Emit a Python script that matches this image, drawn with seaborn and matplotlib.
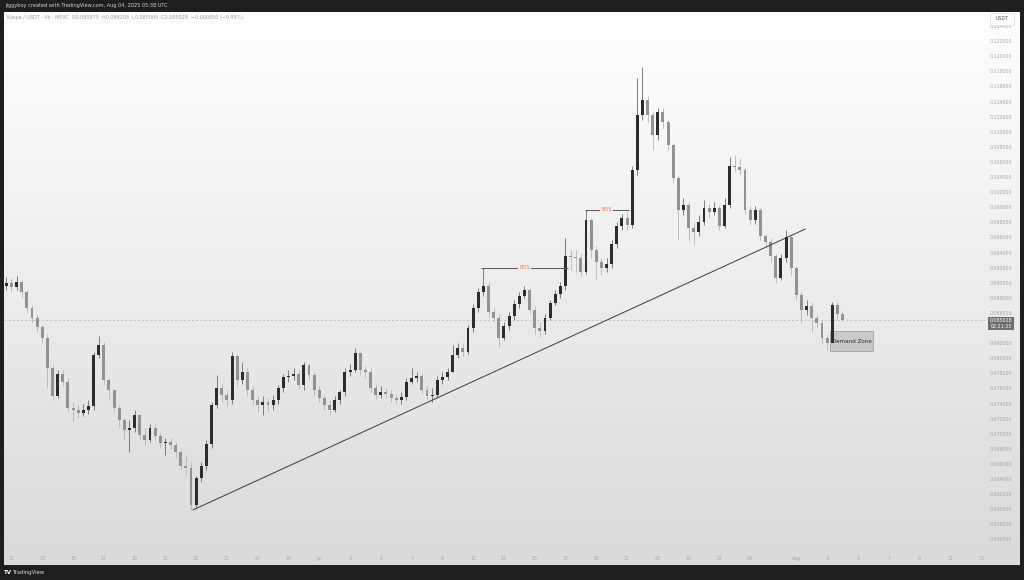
''' Kaspa / USDT candles with trend line, BOS marks and demand zone '''
import numpy as np
import pandas as pd
import matplotlib
matplotlib.use("Agg")
import matplotlib.pyplot as plt
import matplotlib.dates as mdates
from matplotlib.patches import Rectangle
import seaborn as sns

sns.set_theme(style="white")
plt.rcParams['font.family'] = ['DejaVu Sans']

# 8h candles (first candle Jun 10 16:00 UTC)
candle_start = "2025-06-10 16:00"
first_open = 0.08956
close = [0.08996, 0.08943, 0.09009, 0.08877, 0.08665, 0.08532, 0.08413, 0.08268, 0.07870, 0.07499,
         0.07791, 0.07685, 0.07340, 0.07314, 0.07274, 0.07314, 0.07367, 0.08042, 0.08175, 0.07711,
         0.07579, 0.07340, 0.07182, 0.07049, 0.07076, 0.07248, 0.06983, 0.06917, 0.07076, 0.06970,
         0.06877, 0.06890, 0.06850, 0.06758, 0.06572, 0.06546, 0.06056, 0.06413, 0.06572, 0.06864,
         0.07380, 0.07605, 0.07513, 0.07446, 0.08029, 0.07711, 0.07817, 0.07579, 0.07446, 0.07380,
         0.07420, 0.07380, 0.07446, 0.07605, 0.07751, 0.07764, 0.07791, 0.07645, 0.07910, 0.07778,
         0.07579, 0.07473, 0.07380, 0.07314, 0.07446, 0.07552, 0.07817, 0.07844, 0.08069, 0.07844,
         0.07817, 0.07605, 0.07513, 0.07552, 0.07526, 0.07473, 0.07446, 0.07486, 0.07685, 0.07738,
         0.07764, 0.07579, 0.07499, 0.07513, 0.07711, 0.07751, 0.07817, 0.08042, 0.08135, 0.08082,
         0.08400, 0.08665, 0.08877, 0.08956, 0.08612, 0.08532, 0.08268, 0.08427, 0.08559, 0.08718,
         0.08824, 0.08903, 0.08638, 0.08400, 0.08360, 0.08532, 0.08731, 0.08850, 0.08956, 0.09354,
         0.09340, 0.09327, 0.09142, 0.09831, 0.09433, 0.09274, 0.09195, 0.09248, 0.09513, 0.09751,
         0.09857, 0.09764, 0.10493, 0.11221, 0.11420, 0.11221, 0.10956, 0.11261, 0.11129, 0.10824,
         0.10387, 0.09963, 0.10029, 0.09725, 0.09672, 0.09804, 0.09989, 0.09937, 0.09989, 0.09751,
         0.10029, 0.10546, 0.10533, 0.10493, 0.09963, 0.09831, 0.09963, 0.09619, 0.09539, 0.09354,
         0.09062, 0.09327, 0.09605, 0.09195, 0.08837, 0.08638, 0.08691, 0.08532, 0.08466, 0.08268,
         0.08201, 0.08705, 0.08585, 0.085028]
high = [0.09076, 0.09062, 0.09089, 0.09036, 0.08903, 0.08705, 0.08585, 0.08440, 0.08321, 0.07910,
        0.07844, 0.07844, 0.07738, 0.07420, 0.07380, 0.07393, 0.07446, 0.08082, 0.08294, 0.08215,
        0.07738, 0.07579, 0.07380, 0.07208, 0.07182, 0.07314, 0.07261, 0.07076, 0.07129, 0.07129,
        0.07023, 0.06943, 0.06943, 0.06877, 0.06784, 0.06718, 0.06625, 0.06440, 0.06625, 0.06917,
        0.07420, 0.07778, 0.07672, 0.07579, 0.08082, 0.08056, 0.07950, 0.07870, 0.07632, 0.07499,
        0.07499, 0.07473, 0.07513, 0.07645, 0.07791, 0.07844, 0.07870, 0.07844, 0.07950, 0.07923,
        0.07817, 0.07632, 0.07513, 0.07446, 0.07499, 0.07579, 0.07870, 0.07923, 0.08135, 0.08082,
        0.07897, 0.07870, 0.07658, 0.07632, 0.07605, 0.07579, 0.07526, 0.07552, 0.07738, 0.07870,
        0.07817, 0.07791, 0.07632, 0.07605, 0.07764, 0.07817, 0.07870, 0.08175, 0.08201, 0.08188,
        0.08440, 0.08718, 0.08930, 0.09195, 0.09009, 0.08665, 0.08585, 0.08480, 0.08612, 0.08771,
        0.08877, 0.08956, 0.08930, 0.08691, 0.08480, 0.08585, 0.08771, 0.08903, 0.09009, 0.09592,
        0.09433, 0.09433, 0.09380, 0.09963, 0.09857, 0.09486, 0.09327, 0.09327, 0.09566, 0.09804,
        0.09910, 0.09937, 0.10546, 0.11711, 0.11857, 0.11473, 0.11261, 0.11314, 0.11314, 0.11155,
        0.10837, 0.10413, 0.10122, 0.10069, 0.09804, 0.09897, 0.10095, 0.10042, 0.10069, 0.10016,
        0.10122, 0.10665, 0.10691, 0.10652, 0.10519, 0.10016, 0.10016, 0.09989, 0.09645, 0.09592,
        0.09380, 0.09380, 0.09698, 0.09619, 0.09221, 0.08877, 0.08771, 0.08744, 0.08572, 0.08506,
        0.08307, 0.08744, 0.08744, 0.08621]
low = [0.08903, 0.08877, 0.08903, 0.08797, 0.08612, 0.08480, 0.08347, 0.08201, 0.07605, 0.07446,
       0.07473, 0.07632, 0.07287, 0.07155, 0.07208, 0.07235, 0.07261, 0.07314, 0.08003, 0.07658,
       0.07446, 0.07287, 0.07089, 0.06917, 0.06758, 0.07023, 0.06917, 0.06850, 0.06890, 0.06917,
       0.06811, 0.06718, 0.06797, 0.06678, 0.06519, 0.06453, 0.05989, 0.06016, 0.06360, 0.06519,
       0.06811, 0.07340, 0.07420, 0.07367, 0.07393, 0.07632, 0.07658, 0.07499, 0.07380, 0.07287,
       0.07248, 0.07287, 0.07314, 0.07393, 0.07552, 0.07685, 0.07711, 0.07592, 0.07579, 0.07711,
       0.07499, 0.07420, 0.07314, 0.07248, 0.07287, 0.07393, 0.07499, 0.07764, 0.07817, 0.07778,
       0.07738, 0.07552, 0.07460, 0.07473, 0.07473, 0.07420, 0.07393, 0.07393, 0.07446, 0.07658,
       0.07685, 0.07526, 0.07446, 0.07420, 0.07473, 0.07658, 0.07711, 0.07817, 0.08003, 0.08029,
       0.08056, 0.08347, 0.08612, 0.08824, 0.08532, 0.08480, 0.08148, 0.08241, 0.08374, 0.08506,
       0.08665, 0.08797, 0.08585, 0.08321, 0.08281, 0.08321, 0.08506, 0.08705, 0.08797, 0.08903,
       0.09168, 0.09142, 0.09089, 0.09115, 0.09327, 0.09036, 0.09102, 0.09142, 0.09195, 0.09460,
       0.09698, 0.09698, 0.09725, 0.10427, 0.11155, 0.11129, 0.10758, 0.10890, 0.11049, 0.10758,
       0.10334, 0.09566, 0.09897, 0.09566, 0.09499, 0.09619, 0.09764, 0.09857, 0.09897, 0.09698,
       0.09725, 0.09989, 0.10466, 0.10427, 0.09910, 0.09764, 0.09778, 0.09566, 0.09460, 0.09274,
       0.08996, 0.09036, 0.09274, 0.09102, 0.08771, 0.08466, 0.08572, 0.08347, 0.08400, 0.08201,
       0.08109, 0.08162, 0.08506, 0.08490]

# trend line (two anchors), break-of-structure levels, demand zone
trend_time = ["2025-06-22 19:00", "2025-08-01 14:00"]
trend_price = [0.05990, 0.09711]
bos_start = ["2025-07-11 13:00", "2025-07-18 06:00"]
bos_end = ["2025-07-17 04:00", "2025-07-21 03:00"]
bos_price = [0.09195, 0.09963]
zone_time = ["2025-08-03 04:00", "2025-08-05 23:00"]
zone_price = [0.08095, 0.08360]
last_price = 0.085028

header = "jiggyboy created with TradingView.com, Aug 04, 2025 05:38 UTC"
legend = ("Kaspa / USDT · 4h · MEXC  O0.085875  H0.086208  L0.085000  "
          "C0.085028  \u22120.000850 (\u22120.99%)")

close = np.array(close)
high = np.array(high)
low = np.array(low)
times = pd.date_range(candle_start, periods=len(close), freq="8h")
x = mdates.date2num(times.to_pydatetime())
op = np.r_[first_open, close[:-1]]
up = close >= op

W, H = 1024, 580
fig = plt.figure(figsize=(W / 100, H / 100), dpi=100, facecolor="#1e1e1e")

# light pane with a soft vertical gradient
bg = fig.add_axes([4 / W, 1 - 565 / H, 1016 / W, 553 / H], zorder=-1)
shade = np.linspace(1.0, 0.855, 256)
bg.imshow(np.dstack([shade, shade, shade]).reshape(256, 1, 3), aspect="auto",
          extent=[0, 1, 0, 1])
bg.axis("off")

ax = fig.add_axes([4 / W, 1 - 552 / H, 981 / W, 540 / H])
ax.set_facecolor("none")
for s in ax.spines.values():
    s.set_visible(False)

# candles
body = np.maximum(np.abs(close - op), 0.00008)
base = np.minimum(close, op)
ax.vlines(x[up], low[up], high[up], color="#6a6a6a", lw=0.6, zorder=2)
ax.vlines(x[~up], low[~up], high[~up], color="#b5b5b5", lw=0.6, zorder=2)
ax.bar(x[up], body[up], bottom=base[up], width=0.19, color="#2c2c2c", lw=0, zorder=3)
ax.bar(x[~up], body[~up], bottom=base[~up], width=0.19, color="#929292", lw=0, zorder=3)

# trend line
trend = pd.DataFrame({"t": mdates.date2num(pd.to_datetime(trend_time).to_pydatetime()),
                      "p": trend_price})
sns.lineplot(data=trend, x="t", y="p", ax=ax, color="#3a3a3a", lw=0.7, zorder=4)

# BOS levels
for t0, t1, p in zip(bos_start, bos_end, bos_price):
    a = mdates.date2num(pd.Timestamp(t0).to_pydatetime())
    b = mdates.date2num(pd.Timestamp(t1).to_pydatetime())
    ax.hlines(p, a, b, color="#5a5a5a", lw=0.7, zorder=4)
    ax.text((a + b) / 2, p, "BOS", color="#f07f45", fontsize=3.6, ha="center",
            va="center", zorder=5,
            bbox=dict(boxstyle="square,pad=0.25", fc="#efefef", ec="none"))

# current price line
ax.axhline(last_price, color="#b4b4b4", lw=0.5, ls=(0, (3, 3)), zorder=1)

# demand zone
z0 = mdates.date2num(pd.Timestamp(zone_time[0]).to_pydatetime())
z1 = mdates.date2num(pd.Timestamp(zone_time[1]).to_pydatetime())
ax.add_patch(Rectangle((z0, zone_price[0]), z1 - z0, zone_price[1] - zone_price[0],
                       fc="#c9c9c9", ec="#a2a2a2", lw=0.6, zorder=2))
ax.text(z0 + 0.15, sum(zone_price) / 2, "Demand Zone", fontsize=4.1, color="#2a2a2a",
        va="center", ha="left", zorder=6)

# axes ranges and ticks
day0 = mdates.date2num(pd.Timestamp("2025-06-11").to_pydatetime())
ax.set_xlim(day0 - 0.487, day0 + 63.26)
ax.set_ylim(0.054331, 0.125855)
ax.set_xlabel("")
ax.set_ylabel("")

tick_days = list(pd.date_range("2025-06-11", "2025-06-29", freq="2D")) + \
    list(pd.date_range("2025-07-01", "2025-07-29", freq="2D")) + \
    list(pd.date_range("2025-08-01", "2025-08-13", freq="2D"))
tick_labels = [d.strftime("%b") if d.day == 1 else str(d.day) for d in tick_days]
ax.set_xticks(mdates.date2num([d.to_pydatetime() for d in tick_days]))
ax.set_xticklabels(tick_labels)

price_ticks = np.arange(56, 125, 2) / 1000
ax.yaxis.tick_right()
ax.set_yticks(price_ticks)
ax.set_yticklabels([f"{p:.6f}" for p in price_ticks])
ax.tick_params(axis="y", length=0, pad=3.6, labelsize=3.4, labelcolor="#a5a5a5")
ax.tick_params(axis="x", length=0, pad=3.0, labelsize=3.4, labelcolor="#a5a5a5")
ax.grid(False)

# header / footer texts
fig.text(5 / W, 1 - 6 / H, header, fontsize=3.6, color="#d2d2d2", va="center")
fig.text(7 / W, 1 - 17 / H, legend, fontsize=3.5, color="#9c9c9c", va="center")
fig.text(4 / W, 1 - 572.5 / H, "TV", fontsize=4, color="white", weight="bold",
         va="center")
fig.text(13 / W, 1 - 572.5 / H, "TradingView", fontsize=3.8, color="#e0e0e0",
         va="center")

# axis unit box and price tag
fig.patches.append(Rectangle((990 / W, 1 - 25 / H), 24 / W, 12 / H, transform=fig.transFigure,
                             fc="white", ec="#dedede", lw=0.5, zorder=5))
fig.text(1002 / W, 1 - 19 / H, "USDT", fontsize=3.4, color="#555555", ha="center",
         va="center", zorder=6)
fig.patches.append(Rectangle((988 / W, 1 - 330 / H), 26 / W, 13 / H, transform=fig.transFigure,
                             fc="#6d6d6d", ec="none", zorder=5))
fig.text(1001 / W, 1 - 320.5 / H, f"{last_price:.6f}", fontsize=3.4, color="white",
         ha="center", va="center", zorder=6)
fig.text(1001 / W, 1 - 326.5 / H, "02:21:33", fontsize=3.4, color="white",
         ha="center", va="center", zorder=6)

fig.savefig("out.png", dpi=100, facecolor=fig.get_facecolor())
